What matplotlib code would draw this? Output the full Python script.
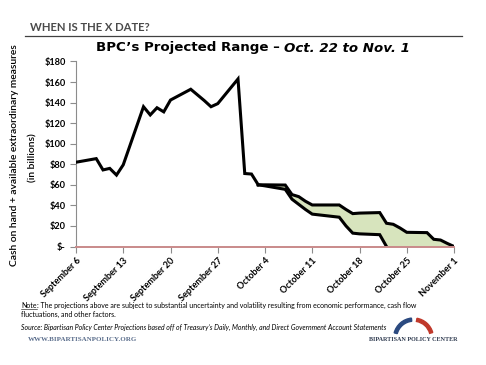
import matplotlib
matplotlib.use("Agg")
import matplotlib.pyplot as plt
from matplotlib.patches import Wedge
import pandas as pd

# Actual cash + extraordinary measures (billions), Sept 6 - Oct 3, 2013
hist_dates = ["2013-09-06", "2013-09-09", "2013-09-10", "2013-09-11", "2013-09-12",
              "2013-09-13", "2013-09-16", "2013-09-17", "2013-09-18", "2013-09-19",
              "2013-09-20", "2013-09-23", "2013-09-24", "2013-09-25", "2013-09-26",
              "2013-09-27", "2013-09-30", "2013-10-01", "2013-10-02", "2013-10-03"]
hist_cash = [82, 85.5, 74.5, 76, 69.5, 79.5, 136, 128, 135, 131,
             142.5, 153, 147.5, 142, 136, 139, 163, 71, 70.5, 60]

# Projected range, Oct 3 - Nov 1
proj_dates = ["2013-10-03", "2013-10-04", "2013-10-07", "2013-10-08", "2013-10-09",
              "2013-10-10", "2013-10-11", "2013-10-15", "2013-10-16", "2013-10-17",
              "2013-10-18", "2013-10-21", "2013-10-22", "2013-10-23", "2013-10-24",
              "2013-10-25", "2013-10-28", "2013-10-29", "2013-10-30", "2013-10-31",
              "2013-11-01"]
proj_high = [60, 60, 59.8, 50.5, 48.5, 44, 40.4, 40.4, 36, 32, 32.5, 33,
             22.6, 21.6, 18, 13.8, 13.5, 7, 6.3, 3, 0]
proj_low = [60, 59, 55.6, 46, 41, 36, 31.5, 28.5, 20, 13, 12.3, 11.5,
            0, 0, 0, 0, 0, 0, 0, 0, 0]

tick_dates = ["2013-09-06", "2013-09-13", "2013-09-20", "2013-09-27", "2013-10-04",
              "2013-10-11", "2013-10-18", "2013-10-25", "2013-11-01"]
tick_labels = ["September 6", "September 13", "September 20", "September 27",
               "October 4", "October 11", "October 18", "October 25", "November 1"]
y_ticks = [0, 20, 40, 60, 80, 100, 120, 140, 160, 180]
y_labels = ["$-", "$20", "$40", "$60", "$80", "$100", "$120", "$140", "$160", "$180"]

hd = pd.to_datetime(hist_dates)
pdt = pd.to_datetime(proj_dates)
td = pd.to_datetime(tick_dates)
low_end = proj_dates.index("2013-10-22") + 1

W, H = 486, 365
fig = plt.figure(figsize=(W / 100, H / 100), dpi=100)
fig.patch.set_facecolor("white")


def fx(px):
    return px / W


def fy(py):
    return 1 - py / H


ax = fig.add_axes([fx(76), fy(246.5), fx(454) - fx(76), fy(61.5) - fy(246.5)])

ax.fill_between(pdt, proj_low, proj_high, color="#D7E4BD", lw=0, zorder=1)
ax.plot(hd, hist_cash, color="black", lw=2.2, zorder=3, solid_joinstyle="miter")
ax.plot(pdt, proj_high, color="black", lw=2.2, zorder=3, solid_joinstyle="miter")
ax.plot(pdt[:low_end], proj_low[:low_end], color="black", lw=2.2, zorder=3,
        solid_joinstyle="miter")

ax.set_xlim(td[0], td[-1])
ax.set_ylim(0, 180)
ax.set_yticks(y_ticks)
ax.set_yticklabels(y_labels)
ax.set_xticks(td)
ax.set_xticklabels(tick_labels, rotation=45, ha="right", rotation_mode="anchor")

for s in ["top", "right"]:
    ax.spines[s].set_visible(False)
ax.spines["left"].set_color("#8c8c8c")
ax.spines["left"].set_linewidth(0.8)
ax.spines["bottom"].set_color("#C98A8A")
ax.spines["bottom"].set_linewidth(1.4)
ax.spines["bottom"].set_zorder(4)
ax.tick_params(axis="both", colors="#8c8c8c", length=4, width=0.8)
ax.tick_params(axis="x", pad=3)
for lab in ax.get_xticklabels() + ax.get_yticklabels():
    lab.set_color("black")
    lab.set_fontfamily("Lato")
    lab.set_fontweight("bold")
    lab.set_fontsize(6.6)

# y label (two lines)
fig.text(fx(15), fy(155), "Cash on hand + available extraordinary measures",
         rotation=90, ha="center", va="center", fontsize=7.4, family="Lato",
         fontweight="semibold")
fig.text(fx(33), fy(158), "(in billions)", rotation=90, ha="center", va="center",
         fontsize=7.4, family="Lato", fontweight="semibold")

# header
fig.text(fx(30), fy(27.5), "WHEN IS THE X DATE?", ha="left", va="center",
         fontsize=8.1, family="Lato", fontweight="bold", color="#4a4a4a")
fig.add_artist(plt.Line2D([fx(25), fx(462)], [fy(35.5), fy(35.5)],
                          color="#404040", lw=0.9))

# title
t1 = fig.text(fx(96), fy(48), "BPC\u2019s Projected Range \u2013 ", ha="left",
              va="center", fontsize=9.6, family="DejaVu Sans", fontweight="bold")
fig.canvas.draw()
bb = t1.get_window_extent()
fig.text(bb.x1 / W, fy(48), "Oct. 22 to Nov. 1", ha="left", va="center",
         fontsize=9.6, family="DejaVu Sans", fontweight="bold", style="italic")

# notes
note = fig.text(fx(21), fy(305), "Note", ha="left", va="center", fontsize=5.0,
                family="Lato")
fig.canvas.draw()
nb = note.get_window_extent()
fig.add_artist(plt.Line2D([nb.x0 / W, nb.x1 / W], [fy(308.8), fy(308.8)],
                          color="black", lw=0.4))
fig.text(nb.x1 / W, fy(305), ": The projections above are subject to substantial uncertainty "
         "and volatility resulting from economic performance, cash flow",
         ha="left", va="center", fontsize=5.0, family="Lato")
fig.text(fx(21), fy(314), "fluctuations, and other factors.", ha="left", va="center",
         fontsize=5.0, family="Lato")
fig.text(fx(21), fy(327.5), "Source: Bipartisan Policy Center Projections based off of "
         "Treasury\u2019s Daily, Monthly, and Direct Government Account Statements",
         ha="left", va="center", fontsize=4.95, family="Lato", style="italic")
fig.text(fx(28), fy(339.5), "WWW.BIPARTISANPOLICY.ORG", ha="left", va="center",
         fontsize=5.0, family="Liberation Serif", fontweight="bold", color="#5B6E8C")
fig.text(fx(413), fy(339.5), "BIPARTISAN POLICY CENTER", ha="center", va="center",
         fontsize=4.4, family="Liberation Serif", fontweight="bold", color="#2E3A4F")

# logo arcs
lax = fig.add_axes([fx(390), fy(340), fx(437) - fx(390), fy(314) - fy(340)])
lax.set_xlim(390, 437)
lax.set_ylim(340, 314)
lax.axis("off")
lax.add_patch(Wedge((413.5, 338), 20, 195, 264, width=3.2, color="#2B4A80"))
lax.add_patch(Wedge((413.5, 338), 20, 280, 344, width=3.2, color="#C0392B"))

fig.savefig("out.png", dpi=100)
